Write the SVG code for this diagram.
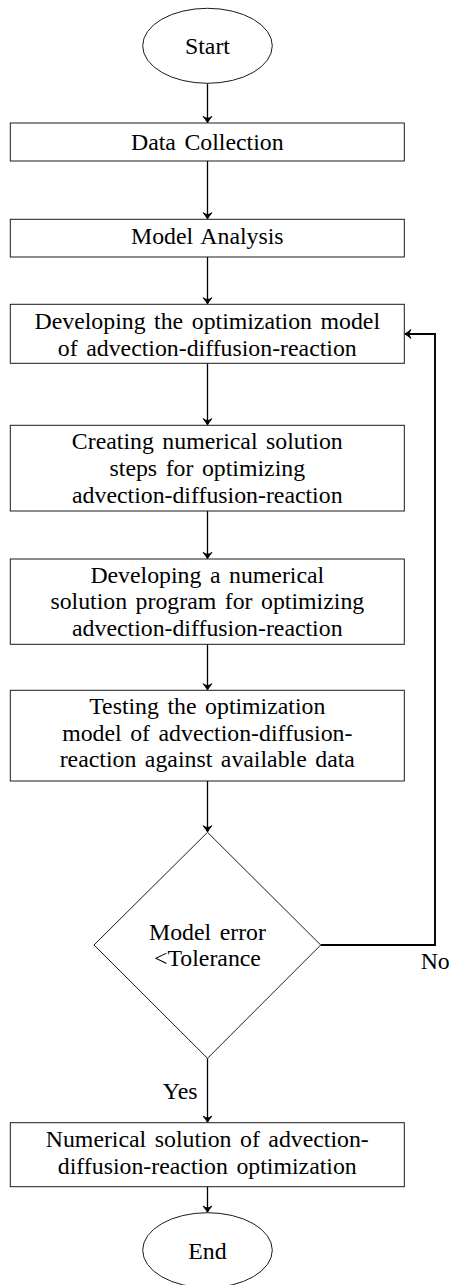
<svg xmlns="http://www.w3.org/2000/svg" width="449" height="1285" viewBox="0 0 449 1285">
  <style>
    .shape { fill: #fff; stroke: #1a1a1a; stroke-width: 1; }
    .lbl { font-family: "Liberation Serif", "Times New Roman", serif; font-size: 23.8px; fill: #000; text-anchor: middle; word-spacing: 2.6px; }
    .tag { font-family: "Liberation Serif", "Times New Roman", serif; font-size: 23.8px; fill: #000; }
    .flow { fill: none; stroke: #000; stroke-width: 1.3; marker-end: url(#head); }
    .loop { fill: none; stroke: #000; stroke-width: 1.9; marker-end: url(#head); }
  </style>
  <defs>
    <!-- curved-barb arrow tip, sized in user units so both line weights share it -->
    <marker id="head" markerUnits="userSpaceOnUse" viewBox="-8 -6 10 12" refX="0" refY="0" markerWidth="10" markerHeight="12" orient="auto">
      <path d="M -6.2 -4.4 Q -2.4 -1.4 0 0 Q -2.4 1.4 -6.2 4.4 Q -4.2 1.4 -4.4 0 Q -4.2 -1.4 -6.2 -4.4 Z" fill="#000" stroke="#000" stroke-width="0.9" stroke-linejoin="round"/>
    </marker>
  </defs>

  <g id="connectors">
    <path class="flow" d="M207.5 83.3 V122.6"/>
    <path class="flow" d="M207.5 161 V218.9"/>
    <path class="flow" d="M207.5 257 V303.9"/>
    <path class="flow" d="M207.5 363.3 V424.9"/>
    <path class="flow" d="M207.5 511 V558.6"/>
    <path class="flow" d="M207.5 644.3 V689.9"/>
    <path class="flow" d="M207.5 781 V831.9"/>
    <path class="flow" d="M207.5 1058.3 V1122.3"/>
    <path class="flow" d="M207.5 1186.7 V1212.3"/>
    <path class="loop" d="M320.7 945 H435 V334 H404.8"/>
    <text class="tag" x="197.5" y="1099" text-anchor="end">Yes</text>
    <text class="tag" x="420.7" y="969">No</text>
  </g>

  <g id="start">
    <ellipse class="shape" cx="207.5" cy="45.8" rx="64.8" ry="37.5"/>
    <text class="lbl" x="207.5" y="54">Start</text>
  </g>

  <g id="data-collection">
    <rect class="shape" x="10.3" y="123" width="394" height="38"/>
    <text class="lbl" x="207.3" y="149.5">Data Collection</text>
  </g>

  <g id="model-analysis">
    <rect class="shape" x="10.3" y="219.3" width="394" height="37.7"/>
    <text class="lbl" x="207.3" y="244">Model Analysis</text>
  </g>

  <g id="develop-model">
    <rect class="shape" x="10.3" y="304.3" width="394" height="59"/>
    <text class="lbl" x="207.3" y="329">Developing the optimization model</text>
    <text class="lbl" x="207.3" y="355.7">of advection-diffusion-reaction</text>
  </g>

  <g id="solution-steps">
    <rect class="shape" x="10.3" y="425.3" width="394" height="85.7"/>
    <text class="lbl" x="207.3" y="449.3">Creating numerical solution</text>
    <text class="lbl" x="207.3" y="476">steps for optimizing</text>
    <text class="lbl" x="207.3" y="502.7">advection-diffusion-reaction</text>
  </g>

  <g id="solution-program">
    <rect class="shape" x="10.3" y="559" width="394" height="85.3"/>
    <text class="lbl" x="207.3" y="582.7">Developing a numerical</text>
    <text class="lbl" x="207.3" y="609.3">solution program for optimizing</text>
    <text class="lbl" x="207.3" y="636">advection-diffusion-reaction</text>
  </g>

  <g id="testing">
    <rect class="shape" x="10.3" y="690.3" width="394" height="90.7"/>
    <text class="lbl" x="207.3" y="714">Testing the optimization</text>
    <text class="lbl" x="207.3" y="740.7">model of advection-diffusion-</text>
    <text class="lbl" x="207.3" y="767.3">reaction against available data</text>
  </g>

  <g id="tolerance-check">
    <polygon class="shape" points="207.5,832.3 320.7,945 207.5,1058.3 94,945"/>
    <text class="lbl" x="207.5" y="940">Model error</text>
    <text class="lbl" x="207.5" y="966">&lt;Tolerance</text>
  </g>

  <g id="numerical-solution">
    <rect class="shape" x="10.3" y="1122.7" width="394" height="64"/>
    <text class="lbl" x="207.3" y="1147.3">Numerical solution of advection-</text>
    <text class="lbl" x="207.3" y="1174">diffusion-reaction optimization</text>
  </g>

  <g id="end">
    <ellipse class="shape" cx="207.5" cy="1250.2" rx="64.8" ry="37.5"/>
    <text class="lbl" x="207.5" y="1259.3">End</text>
  </g>
</svg>
